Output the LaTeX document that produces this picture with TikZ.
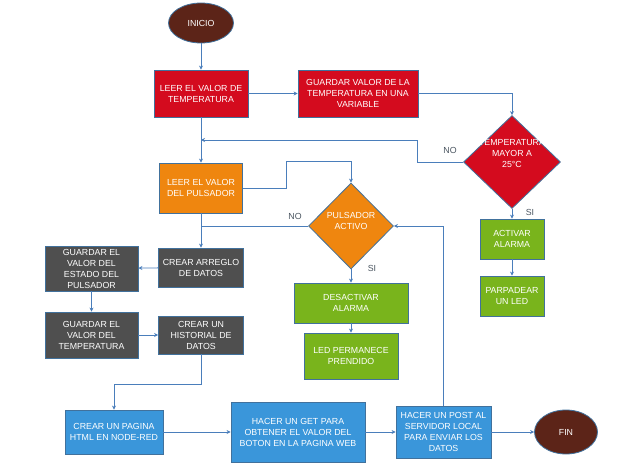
\documentclass[tikz,border=0pt]{standalone}
\usepackage{fontspec}
\setmainfont{Liberation Sans}
\usetikzlibrary{shapes.geometric,arrows.meta}
\definecolor{cred}{HTML}{D40B1E}
\definecolor{corange}{HTML}{EF860F}
\definecolor{cgreen}{HTML}{79B41C}
\definecolor{cgray}{HTML}{4F4F4F}
\definecolor{cblue}{HTML}{3A96DA}
\definecolor{cbrown}{HTML}{5C2418}
\definecolor{cborder}{HTML}{41719C}
\definecolor{cline}{HTML}{4A7EBB}
\definecolor{clabel}{HTML}{4A5560}
\tikzset{
  box/.style={rectangle, draw=cborder, line width=0.8pt, text=white, align=center,
    font=\fontsize{8.8}{11}\selectfont, inner sep=1pt},
  dia/.style={diamond, draw=cborder, line width=0.8pt, inner sep=0pt},
  term/.style={ellipse, draw=cborder, line width=0.8pt, fill=cbrown, text=white,
    font=\fontsize{8.8}{11}\selectfont, inner sep=0pt},
  dtext/.style={text=white, align=center, font=\fontsize{8.8}{11}\selectfont, inner sep=0pt},
  lab/.style={text=clabel, font=\fontsize{8.8}{11}\selectfont, inner sep=0pt},
  conn/.style={draw=cline, line width=0.8pt},
  arr/.style={conn, -{Stealth[length=4pt,width=4pt]}},
}
\begin{document}
\begin{tikzpicture}[x=1pt,y=-1pt]
\useasboundingbox (0,0) rectangle (635,476);
% nodes
\node[term, minimum width=65pt, minimum height=40pt] (inicio) at (201,23) {INICIO};
\node[box, fill=cred, minimum width=94pt, minimum height=47pt] (leer) at (201,93.5) {LEER EL VALOR DE\\TEMPERATURA};
\node[box, fill=cred, minimum width=120pt, minimum height=47pt] (guardar) at (358,93.5) {GUARDAR VALOR DE LA\\TEMPERATURA EN UNA\\VARIABLE};
\node[dia, fill=cred, minimum width=97pt, minimum height=93pt] (tdiam) at (512,162) {};
\node[dtext] (tdtext) at (512,154) {TEMPERATURA\\MAYOR A\\25°C};
\node[box, fill=cgreen, minimum width=64pt, minimum height=40pt] (activar) at (512,239) {ACTIVAR\\ALARMA};
\node[box, fill=cgreen, minimum width=64pt, minimum height=40pt] (parpadear) at (512,296) {PARPADEAR\\UN LED};
\node[box, fill=corange, minimum width=83pt, minimum height=50pt] (pulsbox) at (201,188) {LEER EL VALOR\\DEL PULSADOR};
\node[dia, fill=corange, minimum width=85pt, minimum height=86pt] (pdiam) at (351,226) {};
\node[dtext] (pdtext) at (351,221) {PULSADOR\\ACTIVO};
\node[box, fill=cgray, minimum width=85pt, minimum height=39pt] (arreglo) at (201,267.5) {CREAR ARREGLO\\DE DATOS};
\node[box, fill=cgray, minimum width=93pt, minimum height=45pt] (estado) at (91.5,268.5) {GUARDAR EL\\VALOR DEL\\ESTADO DEL\\PULSADOR};
\node[box, fill=cgray, minimum width=93pt, minimum height=46pt] (gtemp) at (91.5,335) {GUARDAR EL\\VALOR DEL\\TEMPERATURA};
\node[box, fill=cgray, minimum width=85pt, minimum height=38pt] (historial) at (201,335) {CREAR UN\\HISTORIAL DE\\DATOS};
\node[box, fill=cgreen, minimum width=114pt, minimum height=40pt] (desactivar) at (351,303) {DESACTIVAR\\ALARMA};
\node[box, fill=cgreen, minimum width=94pt, minimum height=46pt] (led) at (351,356) {LED PERMANECE\\PRENDIDO};
\node[box, fill=cblue, minimum width=98pt, minimum height=44pt] (pagina) at (114,432) {CREAR UN PAGINA\\HTML EN NODE-RED};
\node[box, fill=cblue, minimum width=134pt, minimum height=60pt] (get) at (298,432) {HACER UN GET PARA\\OBTENER EL VALOR DEL\\BOTON EN LA PAGINA WEB};
\node[box, fill=cblue, minimum width=95pt, minimum height=52pt] (post) at (443.5,432) {HACER UN POST AL\\SERVIDOR LOCAL\\PARA ENVIAR LOS\\DATOS};
\node[term, minimum width=63pt, minimum height=44pt] (fin) at (566,432) {FIN};
% labels
\node[lab] (no1) at (450,150) {NO};
\node[lab] (si1) at (530,212) {SI};
\node[lab] (no2) at (295,216) {NO};
\node[lab] (si2) at (372,268) {SI};
% helper coordinates
\coordinate (j1) at (leer.south |- 0,140);
\coordinate (j2) at (pulsbox.south |- pdiam.west);
% connectors
\draw[arr] (inicio) -- (leer);
\draw[arr] (leer) -- (guardar);
\draw[arr] (guardar.east) -| (tdiam.north);
\draw[arr] (tdiam.west) -- (417,162) -- (417,140) -- (j1);
\draw[arr] (leer.south) -- (pulsbox.north);
\draw[arr] (tdiam.south) -- (activar.north);
\draw[arr] (activar) -- (parpadear);
\draw[arr] (pulsbox.east) -- (286,188) -- (286,161) -| (pdiam.north);
\draw[conn] (pdiam.west) -- (j2);
\draw[arr] (pulsbox.south) -- (arreglo.north);
\draw[arr] (pdiam.south) -- (desactivar.north);
\draw[arr] (desactivar) -- (led);
\draw[arr] (arreglo) -- (estado);
\draw[arr] (estado) -- (gtemp);
\draw[arr] (gtemp) -- (historial);
\draw[arr] (historial.south) -- (201,384) -| (pagina.north);
\draw[arr] (pagina) -- (get);
\draw[arr] (get) -- (post);
\draw[arr] (post) -- (fin);
\draw[arr] (post.north) |- (pdiam.east);
\end{tikzpicture}
\end{document}
